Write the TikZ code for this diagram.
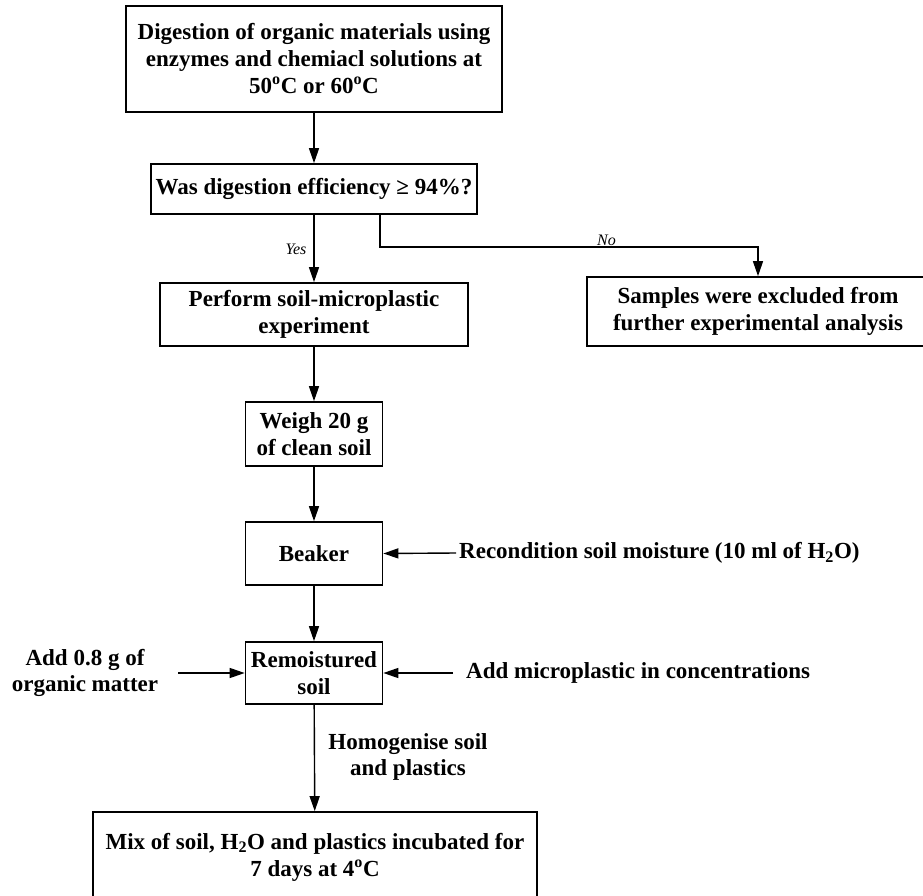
\documentclass[tikz,border=0pt]{standalone}
\usepackage{fontspec}
\setmainfont{Liberation Serif}
\usetikzlibrary{arrows.meta}
\begin{document}
\begin{tikzpicture}[x=1pt,y=-1pt,
  box/.style={draw, line width=1.7pt, align=center, inner sep=0pt,
    font=\fontsize{23}{27}\selectfont\bfseries},
  lbl/.style={align=center, inner sep=0pt, font=\fontsize{23}{26}\selectfont\bfseries},
  small/.style={inner sep=0pt, font=\fontsize{16}{18}\selectfont\itshape},
  arr/.style={line width=1.4pt, -{Triangle[width=10pt,length=15pt]}},
  ln/.style={line width=1.4pt}]
\useasboundingbox (0,0) rectangle (923,896);
\fill[white] (0,0) rectangle (923,896);

\node[box, minimum width=376pt, minimum height=106pt] (top) at (314,59)
  {Digestion of organic materials using\\enzymes and chemiacl solutions at\\50\textsuperscript{o}C or 60\textsuperscript{o}C};
\node[box, minimum width=326pt, minimum height=50pt] (q) at (314,189)
  {Was digestion efficiency ≥ 94\%?};
\node[box, minimum width=308pt, minimum height=63pt] (perform) at (314,314.5)
  {Perform soil-microplastic\\experiment};
\node[box, minimum width=342pt, minimum height=69pt] (samples) at (758,311.5)
  {Samples were excluded from\\further experimental analysis};
\node[box, minimum width=137pt, minimum height=64pt] (weigh) at (314,434)
  {Weigh 20 g\\of clean soil};
\node[box, minimum width=137pt, minimum height=63pt] (beaker) at (314,553.5)
  {Beaker};
\node[box, minimum width=137pt, minimum height=62pt] (remoist) at (314,673)
  {Remoistured\\soil};
\node[box, minimum width=444pt, minimum height=90pt] (mix) at (315,857)
  {Mix of soil, H\textsubscript{2}O and plastics incubated for\\7 days at 4\textsuperscript{o}C};

\node[lbl, anchor=west, inner xsep=3pt] (recond) at (456,553)
  {Recondition soil moisture (10 ml of H\textsubscript{2}O)};
\node[lbl, inner xsep=20pt] (addom) at (85,673) {Add 0.8 g of\\organic matter};
\node[lbl, anchor=west, inner xsep=13pt] (addmp) at (453,673)
  {Add microplastic in concentrations};
\node[lbl] (homog) at (408,757) {Homogenise soil\\and plastics};
\node[small] (yes) at (296,249) {Yes};
\node[small, anchor=south west] (no) at (597,246) {No};
\coordinate (nob) at (380,247);

\draw[arr] (top) -- (q);
\draw[arr] (q) -- (perform);
\draw[arr] (q.south -| nob) |- (nob) -| (samples.north);
\draw[arr] (perform) -- (weigh);
\draw[arr] (weigh) -- (beaker);
\draw[arr] (beaker) -- (remoist);
\draw[arr] (remoist) -- (mix);
\draw[arr] (recond.west) -- (beaker.east);
\draw[arr] (addom.east) -- (remoist.west);
\draw[arr] (addmp.west) -- (remoist.east);
\end{tikzpicture}
\end{document}
